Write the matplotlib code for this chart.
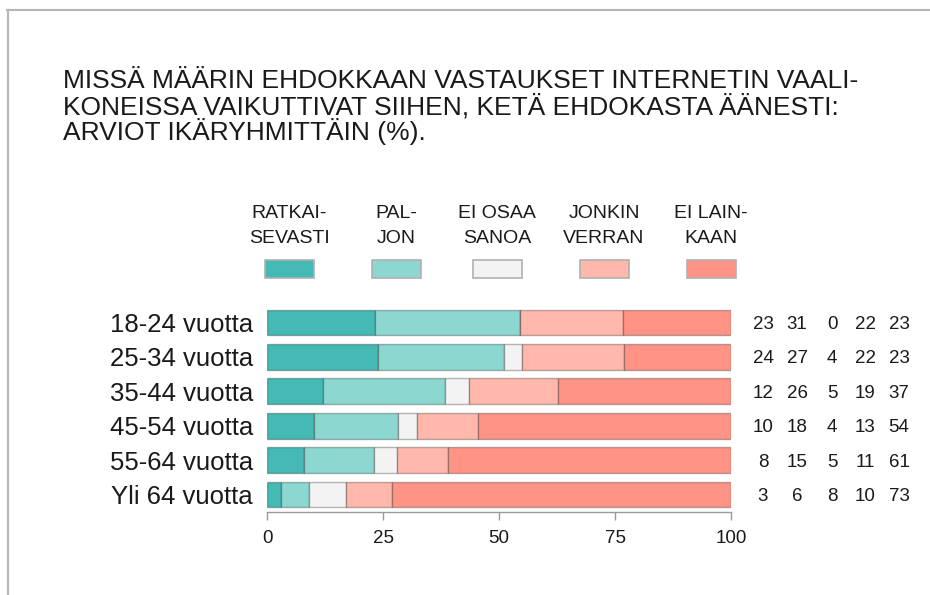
import matplotlib
matplotlib.use("Agg")
import matplotlib.pyplot as plt
from matplotlib.patches import Rectangle
from matplotlib.lines import Line2D
import numpy as np

plt.rcParams['font.family'] = ['Liberation Sans', 'DejaVu Sans']

title_lines = ["MISSÄ MÄÄRIN EHDOKKAAN VASTAUKSET INTERNETIN VAALI-",
               "KONEISSA VAIKUTTIVAT SIIHEN, KETÄ EHDOKASTA ÄÄNESTI:",
               "ARVIOT IKÄRYHMITTÄIN (%)."]

groups = ["18-24 vuotta", "25-34 vuotta", "35-44 vuotta",
          "45-54 vuotta", "55-64 vuotta", "Yli 64 vuotta"]
answers = [("RATKAI-", "SEVASTI"), ("PAL-", "JON"), ("EI OSAA", "SANOA"),
           ("JONKIN", "VERRAN"), ("EI LAIN-", "KAAN")]
colors = ["#45b9b4", "#8dd7d1", "#f3f3f3", "#ffb8ab", "#ff9486"]

ratkaisevasti = [23, 24, 12, 10, 8, 3]
paljon = [31, 27, 26, 18, 15, 6]
ei_osaa = [0, 4, 5, 4, 5, 8]
jonkin_verran = [22, 22, 19, 13, 11, 10]
ei_lainkaan = [23, 23, 37, 54, 61, 73]
series = [ratkaisevasti, paljon, ei_osaa, jonkin_verran, ei_lainkaan]

W, H = 930, 595
fig = plt.figure(figsize=(W / 100, H / 100), dpi=100)

# frame lines at top and left
fig.add_artist(Line2D([7 / W, 1], [1 - 9.5 / H, 1 - 9.5 / H], color="#b5b5b5", lw=1.5))
fig.add_artist(Line2D([7.5 / W, 7.5 / W], [0, 1 - 9.5 / H], color="#b5b5b5", lw=1.5))

for k, line in enumerate(title_lines):
    fig.text(63 / W, 1 - (88 + 26 * k) / H, line, fontsize=19, va="baseline",
             ha="left", color="#1a1a1a")

ax = fig.add_axes([267 / W, (H - 512) / H, 464 / W, 206.7 / H])
y = np.arange(len(groups))
data = np.array(series, dtype=float)
shares = data / data.sum(axis=0) * 100  # bars drawn as shares of row total
left = np.zeros(len(groups))
for vals, c in zip(shares, colors):
    ax.barh(y, vals, left=left, height=0.75, color=c,
            edgecolor=(0, 0, 0, 0.28), linewidth=1)
    left += vals

ax.set_xlim(0, 100)
ax.set_ylim(5.51, -0.5)
ax.set_yticks(y)
ax.set_yticklabels(groups, fontsize=18.5, color="#1a1a1a")
ax.tick_params(axis="y", length=0, pad=10)
ax.set_xticks([0, 25, 50, 75, 100])
ax.tick_params(axis="x", length=6, width=1, color="#9a9a9a", labelsize=13.5,
               labelcolor="#1a1a1a", pad=7)
for s in ["top", "right", "left"]:
    ax.spines[s].set_visible(False)
ax.spines["bottom"].set_color("#9a9a9a")
ax.spines["bottom"].set_linewidth(1)

# values at right
col_x = [763, 797, 832, 865, 899]
for j, vals in enumerate(series):
    for i, v in enumerate(vals):
        ax.text((col_x[j] - 267) / 464, i, str(v), transform=ax.get_yaxis_transform(),
                ha="center", va="center_baseline", fontsize=13.5, color="#1a1a1a")

# legend
leg_x = [289, 396, 497, 604, 711]
for (l1, l2), c, cx in zip(answers, colors, leg_x):
    fig.text(cx / W, 1 - 218 / H, l1, ha="center", va="baseline", fontsize=14,
             color="#1a1a1a")
    fig.text(cx / W, 1 - 243 / H, l2, ha="center", va="baseline", fontsize=14,
             color="#1a1a1a")
    fig.add_artist(Rectangle(((cx - 24.5) / W, 1 - 278 / H), 49 / W, 18 / H,
                             facecolor=c, edgecolor="#b0b0b0", lw=1.2,
                             transform=fig.transFigure))

fig.savefig("out.png", dpi=100)
